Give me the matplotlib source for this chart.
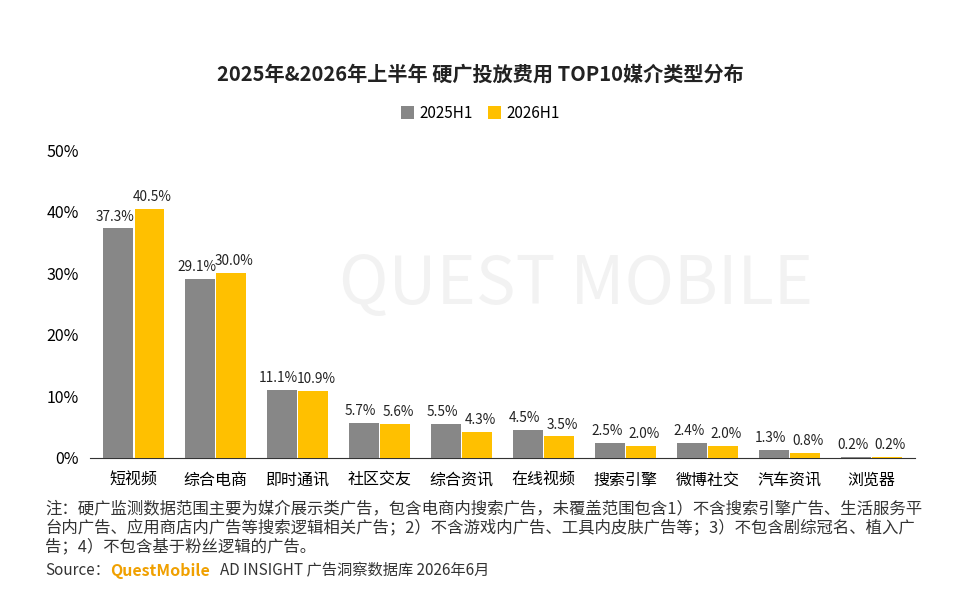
import matplotlib
matplotlib.use("Agg")
import matplotlib.pyplot as plt
import numpy as np

plt.rcParams['font.family'] = ['Noto Sans CJK SC', 'DejaVu Sans']

categories = ["短视频", "综合电商", "即时通讯", "社区交友", "综合资讯", "在线视频", "搜索引擎", "微博社交", "汽车资讯", "浏览器"]
v2025 = [37.3, 29.1, 11.1, 5.7, 5.5, 4.5, 2.5, 2.4, 1.3, 0.2]
v2026 = [40.5, 30.0, 10.9, 5.6, 4.3, 3.5, 2.0, 2.0, 0.8, 0.2]
yticks = [0, 10, 20, 30, 40, 50]

fig = plt.figure(figsize=(9.6, 5.94), dpi=100)
ax = fig.add_axes([0.094, 0.229, 0.859, 0.518])

x = np.arange(len(categories))
w = 0.36
c1, c2 = "#878787", "#ffc000"
b1 = ax.bar(x - w/2 - 0.01, v2025, w, color=c1, label="2025H1", zorder=3)
b2 = ax.bar(x + w/2 + 0.01, v2026, w, color=c2, label="2026H1", zorder=3)
for xi, v in zip(x - w/2 - 0.05, v2025):
    ax.text(xi, v + 0.8, f"{v}%", ha="center", va="bottom", fontsize=9.8, color="#222222")
for xi, v in zip(x + w/2 + 0.05, v2026):
    ax.text(xi, v + 0.8, f"{v}%", ha="center", va="bottom", fontsize=9.8, color="#222222")

ax.set_ylim(0, 50)
ax.set_xlim(-0.53, 9.53)
ax.set_yticks(yticks)
ax.set_yticklabels([f"{t}%" for t in yticks], fontsize=11.5)
ax.set_xticks(x)
ax.set_xticklabels(categories, fontsize=11.5)
ax.tick_params(axis="y", length=0, pad=8)
ax.tick_params(axis="x", length=0, pad=10)
for s in ["top", "right", "left"]:
    ax.spines[s].set_visible(False)
ax.spines["bottom"].set_color("#333333")

fig.text(0.5, 0.875, "2025年&2026年上半年 硬广投放费用 TOP10媒介类型分布", ha="center", va="center",
         fontsize=14.5, fontweight="bold", color="#222222")
fig.legend(handles=[b1, b2], loc="center", bbox_to_anchor=(0.5, 0.809), ncol=2, frameon=False,
           fontsize=11, handlelength=0.9, handleheight=0.9, columnspacing=1.0, handletextpad=0.3)
fig.text(0.6, 0.52, "QUEST MOBILE", ha="center", va="center", fontsize=48, color="#f2f2f2", zorder=0)

note = ("注：硬广监测数据范围主要为媒介展示类广告，包含电商内搜索广告，未覆盖范围包含1）不含搜索引擎广告、生活服务平\n"
        "台内广告、应用商店内广告等搜索逻辑相关广告；2）不含游戏内广告、工具内皮肤广告等；3）不包含剧综冠名、植入广\n"
        "告；4）不包含基于粉丝逻辑的广告。")
fig.text(0.047, 0.065, note, ha="left", va="bottom", fontsize=11.8, color="#333333", linespacing=1.15)
fig.text(0.047, 0.039, "Source：", ha="left", va="center", fontsize=11, color="#333333")
fig.text(0.115, 0.039, "QuestMobile", ha="left", va="center", fontsize=11.5, color="#f0a000", fontweight="bold")
fig.text(0.229, 0.039, "AD INSIGHT 广告洞察数据库 2026年6月", ha="left", va="center", fontsize=11, color="#333333")

fig.savefig("out.png", dpi=100, facecolor="white")
